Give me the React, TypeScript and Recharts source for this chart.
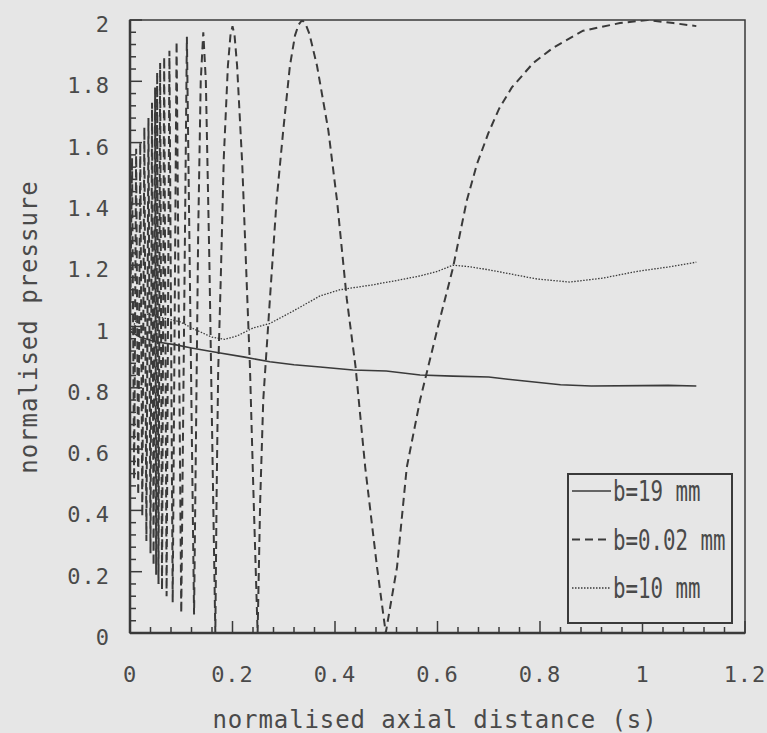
import { LineChart, Line, XAxis, YAxis, ReferenceArea, Legend } from "recharts";

const INK = "#3a3a3a";
const TEXT = "#4a4a4a";
const BG = "#e6e6e6";
const FONT = "'DejaVu Sans Mono', monospace";

const xMajorTicks = [0, 0.2, 0.4, 0.6, 0.8, 1, 1.2];
const yMajorTicks = [0, 0.2, 0.4, 0.6, 0.8, 1, 1.2, 1.4, 1.6, 1.8, 2];

const seriesNames = ["b=19 mm", "b=0.02 mm", "b=10 mm"];

// b = 19 mm (solid)
const b19Points: [number, number][] = [
  [0, 0.985], [0.02, 0.965], [0.05, 0.95], [0.09, 0.94], [0.12, 0.93], [0.17, 0.915],
  [0.224, 0.9], [0.273, 0.885], [0.32, 0.875], [0.371, 0.868], [0.435, 0.858], [0.5, 0.855],
  [0.566, 0.842], [0.63, 0.838], [0.7, 0.835], [0.77, 0.822], [0.84, 0.81], [0.9, 0.806],
  [1.0, 0.807], [1.05, 0.808], [1.105, 0.806],
];

// b = 0.02 mm (dashed)
const b002Points: [number, number][] = [
  [0, 1.0], [0.004, 1.55], [0.008, 0.5], [0.012, 1.58], [0.016, 0.45], [0.02, 1.6],
  [0.024, 0.38], [0.028, 1.65], [0.032, 0.3], [0.036, 1.68], [0.04, 0.26], [0.043, 1.73],
  [0.046, 0.22], [0.049, 1.78], [0.051, 0.19], [0.053, 1.83], [0.0556, 0.16], [0.0588, 1.86],
  [0.0625, 0.14], [0.0667, 1.88], [0.0714, 0.12], [0.0769, 1.9], [0.0833, 0.1], [0.0909, 1.93],
  [0.1, 0.065], [0.111, 1.945], [0.125, 0.06],
  [0.133, 1.3], [0.138, 1.8], [0.143, 1.96], [0.148, 1.8], [0.155, 1.2], [0.1665, 0.0],
  [0.169, 0.45], [0.172, 0.85], [0.177, 1.15], [0.183, 1.55], [0.191, 1.85], [0.196, 1.95],
  [0.2, 1.98], [0.204, 1.95], [0.209, 1.85], [0.219, 1.53], [0.228, 1.13], [0.234, 0.87],
  [0.241, 0.45], [0.249, 0.0],
  [0.254, 0.43], [0.26, 0.76], [0.273, 1.09], [0.286, 1.41], [0.299, 1.64], [0.312, 1.85],
  [0.322, 1.95], [0.329, 1.985], [0.336, 2.0], [0.343, 1.985], [0.35, 1.955], [0.365, 1.85],
  [0.387, 1.64], [0.404, 1.41], [0.423, 1.09], [0.44, 0.87], [0.459, 0.54], [0.482, 0.215],
  [0.499, 0.0],
  [0.521, 0.215], [0.54, 0.54], [0.566, 0.76], [0.601, 1.0], [0.63, 1.19], [0.657, 1.41],
  [0.677, 1.53], [0.699, 1.63], [0.72, 1.71], [0.745, 1.78], [0.787, 1.86], [0.826, 1.91],
  [0.884, 1.965], [0.956, 1.99], [1.01, 2.0], [1.06, 1.99], [1.105, 1.98],
];

// b = 10 mm (dotted)
const b10Points: [number, number][] = [
  [0, 0.98], [0.015, 1.03], [0.035, 1.04], [0.06, 1.03], [0.098, 1.015], [0.127, 0.99],
  [0.16, 0.965], [0.185, 0.958], [0.21, 0.97], [0.24, 0.995], [0.273, 1.01], [0.318, 1.05],
  [0.371, 1.1], [0.41, 1.12], [0.47, 1.135], [0.52, 1.15], [0.566, 1.165], [0.6, 1.18],
  [0.63, 1.2], [0.663, 1.195], [0.7, 1.185], [0.747, 1.17], [0.794, 1.155], [0.858, 1.145],
  [0.923, 1.158], [0.99, 1.18], [1.054, 1.195], [1.105, 1.21],
];

const toRows = (pts: [number, number][]) => pts.map(([x, y]) => ({ x, y }));

// 4 minor ticks between each pair of majors
const withMinor = (majors: number[]) => {
  const out: number[] = [];
  for (let i = 0; i < majors.length - 1; i++) {
    const step = (majors[i + 1] - majors[i]) / 5;
    for (let k = 0; k < 5; k++) out.push(+(majors[i] + k * step).toFixed(4));
  }
  out.push(majors[majors.length - 1]);
  return out;
};

const isMajor = (v: number) => Math.abs(v * 5 - Math.round(v * 5)) < 1e-6;
const fmt = (v: number) => String(Math.round(v * 10) / 10);

const XTick = (props: any) => {
  const { x, y, payload } = props;
  const v = payload.value;
  const major = isMajor(v);
  return (
    <g>
      <line x1={x} x2={x} y1={y} y2={y - (major ? 12 : 6)} stroke={INK} strokeWidth={1.5} />
      {major && (
        <text x={x} y={y + 49} textAnchor="middle" fontFamily={FONT} fontSize={22} fill={TEXT} letterSpacing={1}>
          {fmt(v)}
        </text>
      )}
    </g>
  );
};

const YTick = (props: any) => {
  const { x, y, payload } = props;
  const v = payload.value;
  const major = isMajor(v);
  return (
    <g>
      <line x1={x} x2={x + (major ? 12 : 6)} y1={y} y2={y} stroke={INK} strokeWidth={1.5} />
      {major && (
        <text x={x - 20} y={y + 12} textAnchor="end" fontFamily={FONT} fontSize={22} fill={TEXT} letterSpacing={1}>
          {fmt(v)}
        </text>
      )}
    </g>
  );
};

const LegendBox = (props: any) => {
  const payload = [...(props.payload || [])].sort(
    (a: any, b: any) => seriesNames.indexOf(a.value) - seriesNames.indexOf(b.value)
  );
  return (
    <svg width={166} height={151} style={{ display: "block" }}>
      <rect x={1} y={1} width={164} height={149} fill={BG} stroke={INK} strokeWidth={2} />
      {payload.map((p: any, i: number) => {
        const cy = 18 + i * 48.5;
        return (
          <g key={i}>
            <line
              x1={5}
              x2={44}
              y1={cy}
              y2={cy}
              stroke={INK}
              strokeWidth={p.payload?.strokeWidth ?? 1.5}
              strokeDasharray={p.payload?.strokeDasharray}
            />
            <g transform={`translate(46, ${cy + 10}) scale(1.04, 1.45)`}>
              <text x={0} y={0} fontFamily={FONT} fontSize={20} fill={TEXT}>
                {p.value}
              </text>
            </g>
          </g>
        );
      })}
    </svg>
  );
};

export default function App() {
  return (
    <div style={{ position: "absolute", left: 0, top: 0, width: 767, height: 733, background: BG }}>
      <LineChart width={767} height={733} margin={{ top: 20, right: 22, bottom: 0, left: 0 }}>
        <XAxis
          type="number"
          dataKey="x"
          domain={[0, 1.2]}
          ticks={withMinor(xMajorTicks)}
          interval={0}
          allowDataOverflow
          height={100}
          tickSize={0}
          tickMargin={0}
          tickLine={false}
          tick={<XTick />}
          axisLine={{ stroke: INK, strokeWidth: 2.5 }}
          label={{
            content: () => (
              <text x={435} y={728} textAnchor="middle" fontFamily={FONT} fontSize={24} fill={TEXT} letterSpacing={0.9}>
                normalised axial distance (s)
              </text>
            ),
          }}
        />
        <YAxis
          type="number"
          domain={[0, 2]}
          ticks={withMinor(yMajorTicks)}
          interval={0}
          allowDataOverflow
          width={130}
          tickSize={0}
          tickMargin={0}
          tickLine={false}
          tick={<YTick />}
          axisLine={{ stroke: INK, strokeWidth: 2.5 }}
          label={{
            content: () => (
              <text
                x={0}
                y={0}
                transform="translate(37, 327) rotate(-90)"
                textAnchor="middle"
                fontFamily={FONT}
                fontSize={24}
                fill={TEXT}
                letterSpacing={1}
              >
                normalised pressure
              </text>
            ),
          }}
        />
        <ReferenceArea x1={0} x2={1.2} y1={0} y2={2} fill="none" stroke={INK} strokeWidth={1.5} ifOverflow="visible" />
        <Legend
          layout="horizontal"
          verticalAlign="middle"
          align="center"
          content={<LegendBox />}
          wrapperStyle={{ position: "absolute", left: 567, top: 473, width: 166, height: 151 }}
        />
        <Line
          data={toRows(b19Points)}
          dataKey="y"
          name={seriesNames[0]}
          type="linear"
          stroke={INK}
          strokeWidth={1.6}
          dot={false}
          isAnimationActive={false}
        />
        <Line
          data={toRows(b002Points)}
          dataKey="y"
          name={seriesNames[1]}
          type="linear"
          stroke={INK}
          strokeWidth={2}
          strokeDasharray="8 5"
          dot={false}
          isAnimationActive={false}
        />
        <Line
          data={toRows(b10Points)}
          dataKey="y"
          name={seriesNames[2]}
          type="linear"
          stroke={INK}
          strokeWidth={1.3}
          strokeDasharray="1.5 1.5"
          dot={false}
          isAnimationActive={false}
        />
      </LineChart>
    </div>
  );
}
